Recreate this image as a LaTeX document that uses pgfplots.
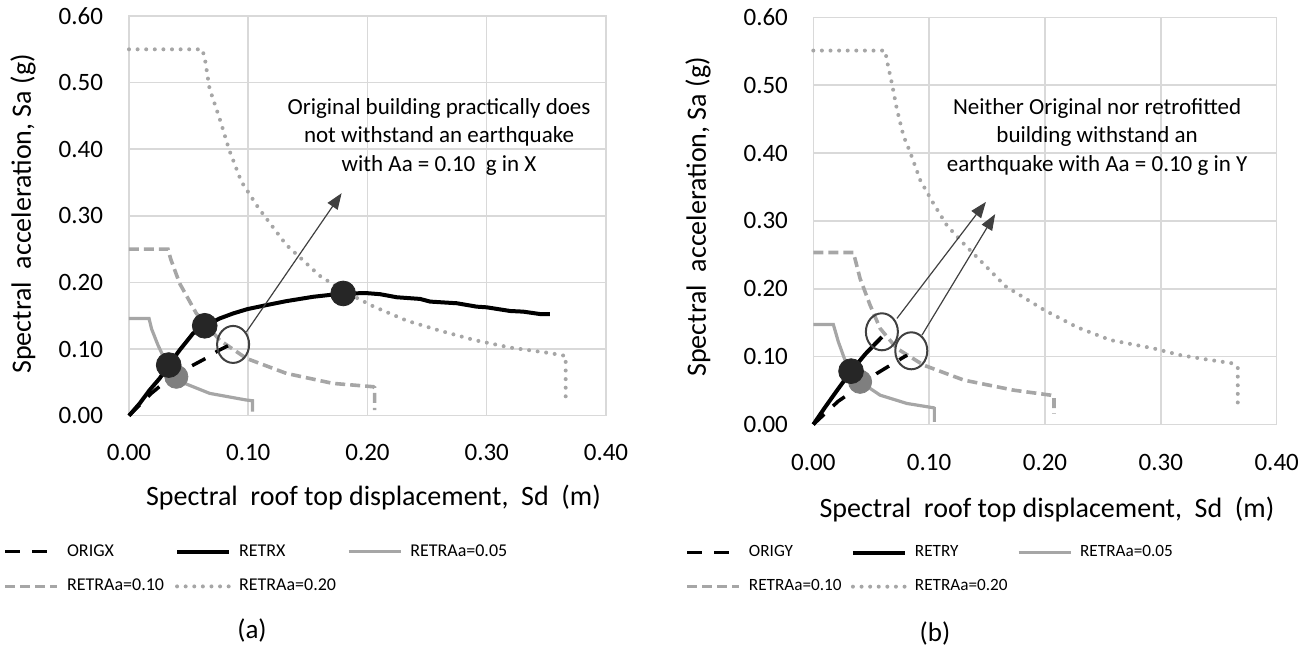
\documentclass[border=0pt]{standalone}
\usepackage{fontspec}
\setmainfont{Carlito}
\usepackage{pgfplots}
\pgfplotsset{compat=1.18}
\usetikzlibrary{arrows.meta}
\definecolor{gridc}{HTML}{D9D9D9}
\definecolor{lgray}{HTML}{A6A6A6}
\definecolor{mgray}{HTML}{7F7F7F}
\definecolor{dark}{HTML}{262626}
\definecolor{annot}{HTML}{404040}
\newcommand{\lt}[2]{\makebox[#1][l]{#2}}
\pgfplotsset{
 spec/.style={
  scale only axis,
  xmin=0, xmax=0.4, ymin=0, ymax=0.6,
  xtick={0,0.1,0.2,0.3,0.4}, xticklabels={0.00,0.10,0.20,0.30,0.40},
  ytick={0,0.1,0.2,0.3,0.4,0.5,0.6}, yticklabels={0.00,0.10,0.20,0.30,0.40,0.50,0.60},
  major tick length=0pt,
  grid=major, grid style={gridc, line width=0.75pt},
  axis line style={gridc, line width=0.75pt},
  tick label style={font=\fontsize{12.5}{15}\selectfont, inner sep=0pt, text=black},
  label style={font=\fontsize{14}{17}\selectfont},
  clip=false,
  legend columns=3,
  legend style={draw=none, fill=none, inner sep=0pt,
    anchor=north west, row sep=10pt, nodes={inner sep=0pt},
    /tikz/every odd column/.append style={column sep=4pt}},
  legend image code/.code={\draw (0pt,0pt) -- (26pt,0pt);},
  xlabel={Spectral\ \ roof top displacement,\ \ Sd\ \ (m)},
  ylabel={Spectral\ \ acceleration, Sa (g)},
 },
 origs/.style={black, line width=1.75pt, dash pattern=on 7.5pt off 6pt},
 retrs/.style={black, line width=2pt},
 a05/.style={lgray, line width=1.6pt},
 a10/.style={lgray, line width=1.8pt, dash pattern=on 5pt off 2.5pt},
 a20/.style={lgray, line width=2pt, line cap=round, dash pattern=on 0pt off 4.3pt},
}
\begin{document}
\begin{tikzpicture}
\useasboundingbox (0pt,0pt) rectangle (657pt,-323.5pt);
% ---------------- (a) ----------------
\begin{axis}[spec,
  at={(64.5pt,-207.85pt)}, anchor=south west,
  width=238.5pt, height=199.85pt,
  xticklabel style={anchor=base, yshift=-22.2pt},
  yticklabel style={anchor=east, xshift=-12.8pt},
  xlabel style={at={(axis description cs:0.5,0)}, anchor=base, yshift=-44.65pt, xshift=3pt},
  ylabel style={at={(axis description cs:-0.2222,0.505)}, anchor=center},
  legend style={at={(axis description cs:-0.264,-0.321)}, font=\fontsize{9}{11}\selectfont},
]
\addlegendimage{origs}\addlegendentry{\lt{54pt}{ORIGX}}
\addlegendimage{retrs}\addlegendentry{\lt{54pt}{RETRX}}
\addlegendimage{a05}\addlegendentry{\lt{54pt}{RETRAa=0.05}}
\addlegendimage{a10}\addlegendentry{\lt{54pt}{RETRAa=0.10}}
\addlegendimage{a20}\addlegendentry{\lt{54pt}{RETRAa=0.20}}
\addplot[a20, forget plot] coordinates {(0,0.55) (0.0615,0.55) (0.0638,0.534) (0.0675,0.4915) (0.0768,0.4415) (0.084,0.399) (0.0942,0.3515) (0.1087,0.3115) (0.1319,0.2565) (0.16,0.21) (0.18,0.187) (0.205,0.164) (0.233,0.1426) (0.261,0.1275) (0.29,0.1134) (0.3196,0.1023) (0.35,0.0947) (0.3587,0.0922) (0.3662,0.0897) (0.3662,0.0217)};
\addplot[a10, forget plot] coordinates {(0,0.25) (0.0327,0.25) (0.035,0.235) (0.0425,0.1985) (0.0565,0.1535) (0.076,0.1135) (0.0985,0.086) (0.132,0.0635) (0.171,0.0485) (0.2048,0.0435) (0.206,0.042) (0.206,0.0085)};
\addplot[a05, forget plot] coordinates {(0,0.146) (0.0168,0.146) (0.019,0.13) (0.0243,0.106) (0.0341,0.0685) (0.0481,0.0475) (0.0677,0.0335) (0.0985,0.0235) (0.1035,0.0225) (0.1035,0.006)};
\addplot[origs, forget plot] coordinates {(0,0) (0.01,0.018) (0.0187,0.0335) (0.0271,0.046) (0.04,0.062) (0.0523,0.0745) (0.0643,0.086) (0.0747,0.0975) (0.083,0.105)};
\addplot[retrs, forget plot] coordinates {(0,0) (0.009,0.0185) (0.0173,0.0385) (0.0257,0.056) (0.0333,0.076) (0.0425,0.0985) (0.0537,0.1235) (0.0635,0.135) (0.0761,0.146) (0.0873,0.1535) (0.0993,0.16) (0.1152,0.166) (0.132,0.172) (0.1544,0.1785) (0.1796,0.1835) (0.1994,0.184) (0.2106,0.1824) (0.2246,0.1778) (0.2441,0.1753) (0.2525,0.1713) (0.2749,0.1688) (0.2916,0.1637) (0.3,0.1627) (0.3196,0.1572) (0.3307,0.1562) (0.3447,0.1526) (0.353,0.1526)};
\addplot[only marks, mark=*, mark size=5.8pt, mark options={fill=mgray, draw=mgray}, forget plot] coordinates {(0.0397,0.0585)};
\addplot[only marks, mark=*, mark size=6.2pt, mark options={fill=dark, draw=dark}, forget plot] coordinates {(0.0333,0.076) (0.0635,0.135) (0.1796,0.1835)};
\draw[annot, line width=1pt] (axis cs:0.0873,0.107) ellipse [x radius=8pt, y radius=9.25pt];
\draw[annot, line width=0.6pt, -{Triangle[length=8pt,width=6pt]}] (axis cs:0.0985,0.126) -- (axis cs:0.1783,0.334);
\node[font=\fontsize{11.5}{14.25}\selectfont, align=center] at (axis cs:0.26,0.419) {Original building practically does\\not withstand an earthquake\\with Aa = 0.10\ \ g in X};
\end{axis}
% ---------------- (b) ----------------
\begin{axis}[spec,
  at={(406.65pt,-212.25pt)}, anchor=south west,
  width=231.7pt, height=203.6pt,
  xticklabel style={anchor=base, yshift=-22.75pt},
  yticklabel style={anchor=east, xshift=-12.5pt},
  xlabel style={at={(axis description cs:0.5,0)}, anchor=base, yshift=-46.25pt, xshift=1pt},
  ylabel style={at={(axis description cs:-0.2488,0.51)}, anchor=center},
  legend style={at={(axis description cs:-0.277,-0.296)}, font=\fontsize{8.6}{11}\selectfont},
]
\addlegendimage{origs}\addlegendentry{\lt{51pt}{ORIGY}}
\addlegendimage{retrs}\addlegendentry{\lt{51pt}{RETRY}}
\addlegendimage{a05}\addlegendentry{\lt{51pt}{RETRAa=0.05}}
\addlegendimage{a10}\addlegendentry{\lt{51pt}{RETRAa=0.10}}
\addlegendimage{a20}\addlegendentry{\lt{51pt}{RETRAa=0.20}}
\addplot[a20, forget plot] coordinates {(0,0.551) (0.062,0.551) (0.064,0.5326) (0.0678,0.503) (0.0722,0.4642) (0.0779,0.425) (0.0837,0.4007) (0.0924,0.3597) (0.1039,0.325) (0.1154,0.2932) (0.1299,0.2663) (0.1661,0.2035) (0.1991,0.1689) (0.2278,0.1432) (0.2565,0.1244) (0.2938,0.1121) (0.3168,0.1022) (0.3397,0.0958) (0.3627,0.0899) (0.3664,0.0835) (0.3664,0.028)};
\addplot[a10, forget plot] coordinates {(0,0.2535) (0.0346,0.2535) (0.0404,0.215) (0.049,0.176) (0.0577,0.1415) (0.0722,0.112) (0.0952,0.0875) (0.13,0.0654) (0.173,0.0506) (0.205,0.0432) (0.2078,0.042) (0.2078,0.016)};
\addplot[a05, forget plot] coordinates {(0,0.1474) (0.0173,0.1474) (0.0216,0.122) (0.0289,0.0875) (0.0404,0.063) (0.0577,0.0432) (0.0808,0.031) (0.1039,0.0246) (0.1045,0.024) (0.1045,0.004)};
\addplot[origs, forget plot] coordinates {(0,0) (0.01,0.016) (0.0216,0.0344) (0.035,0.05) (0.0548,0.0752) (0.0785,0.0998) (0.081,0.102)};
\addplot[retrs, forget plot] coordinates {(0,0) (0.01,0.025) (0.02,0.049) (0.0326,0.0786) (0.045,0.104) (0.0592,0.129)};
\addplot[only marks, mark=*, mark size=5.8pt, mark options={fill=mgray, draw=mgray}, forget plot] coordinates {(0.0404,0.0629)};
\addplot[only marks, mark=*, mark size=6.2pt, mark options={fill=dark, draw=dark}, forget plot] coordinates {(0.0326,0.0786)};
\draw[annot, line width=1pt] (axis cs:0.0592,0.1366) ellipse [x radius=8pt, y radius=9.25pt];
\draw[annot, line width=1pt] (axis cs:0.0846,0.1086) ellipse [x radius=8pt, y radius=9.25pt];
\draw[annot, line width=0.6pt, -{Triangle[length=8pt,width=6pt]}] (axis cs:0.0722,0.1563) -- (axis cs:0.149,0.328);
\draw[annot, line width=0.6pt, -{Triangle[length=8pt,width=6pt]}] (axis cs:0.0938,0.1317) -- (axis cs:0.157,0.31);
\node[font=\fontsize{11.5}{14.25}\selectfont, align=center] at (axis cs:0.245,0.424) {Neither Original nor retrofitted\\building withstand an\\earthquake with Aa = 0.10 g in Y};
\end{axis}
\node[font=\fontsize{13.5}{16}\selectfont] at (126pt,-315pt) {(a)};
\node[font=\fontsize{13.5}{16}\selectfont] at (467.5pt,-316.5pt) {(b)};
\end{tikzpicture}
\end{document}
